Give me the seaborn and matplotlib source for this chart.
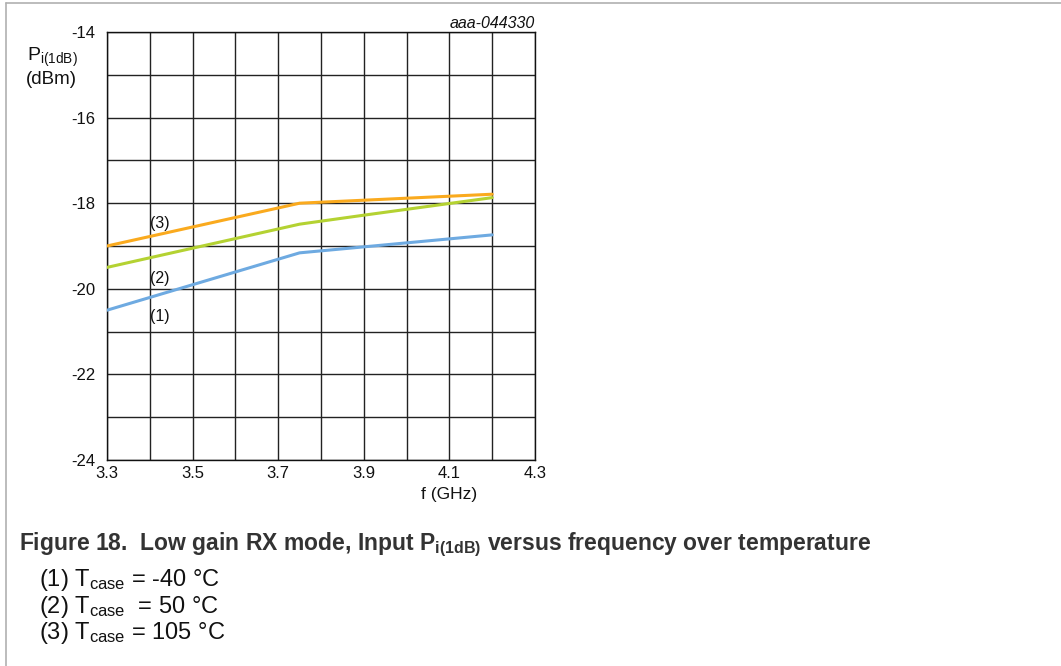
import matplotlib
matplotlib.use('Agg')
import matplotlib.pyplot as plt
from matplotlib.lines import Line2D
import numpy as np
import pandas as pd
import seaborn as sns

# values
freq_ghz = [3.3, 3.75, 3.9, 4.2]
p1db_m40 = [-20.5, -19.16, -19.02, -18.74]   # (1) Tcase = -40 C
p1db_50 = [-19.5, -18.49, -18.28, -17.87]    # (2) Tcase = 50 C
p1db_105 = [-19.0, -18.0, -17.93, -17.79]    # (3) Tcase = 105 C

curve_tags = ['(1)', '(2)', '(3)']
tag_y = [-20.65, -19.75, -18.47]
legend_lines = [r'(1) T$_{\mathregular{case}}$ = -40 °C',
                r'(2) T$_{\mathregular{case}}$  = 50 °C',
                r'(3) T$_{\mathregular{case}}$ = 105 °C']

colors = ['#6EAAE1', '#B4D232', '#FAAA1E']

sns.set_style('white')
plt.rcParams['font.family'] = ['Liberation Sans', 'DejaVu Sans']
plt.rcParams['mathtext.fontset'] = 'custom'
plt.rcParams['mathtext.rm'] = 'Liberation Sans'
plt.rcParams['mathtext.bf'] = 'Liberation Sans:bold'
plt.rcParams['mathtext.it'] = 'Liberation Sans:italic'
plt.rcParams['mathtext.default'] = 'regular'
plt.rcParams['axes.unicode_minus'] = False

df = pd.DataFrame({
    'f': freq_ghz * 3,
    'p': p1db_m40 + p1db_50 + p1db_105,
    'tag': sum([[t] * len(freq_ghz) for t in curve_tags], []),
})

fig = plt.figure(figsize=(10.61, 6.66), dpi=100)
ax = fig.add_axes([107 / 1061, 1 - 460 / 666, 428 / 1061, 428 / 666])

sns.lineplot(data=df, x='f', y='p', hue='tag', palette=colors, linewidth=2.2,
             legend=False, ax=ax, zorder=3)

ax.set_xlim(3.3, 4.3)
ax.set_ylim(-24, -14)
ax.set_xticks(np.arange(3.3, 4.31, 0.2))
ax.set_xticklabels(['3.3', '3.5', '3.7', '3.9', '4.1', '4.3'])
ax.set_xticks(np.arange(3.4, 4.3, 0.2), minor=True)
ax.set_yticks(np.arange(-24, -13, 2))
ax.set_yticks(np.arange(-23, -14, 2), minor=True)
ax.grid(True, which='both', color='#222222', linewidth=1.0)
ax.tick_params(which='both', length=0, labelsize=12, colors='#111111')
ax.tick_params(axis='x', pad=4)
ax.tick_params(axis='y', pad=8.5)
for s in ax.spines.values():
    s.set_color('#111111')
    s.set_linewidth(1.0)
ax.set_xlabel('')
ax.set_ylabel('')

for t, y in zip(curve_tags, tag_y):
    ax.text(3.401, y, t, fontsize=11.5, va='center', ha='left', color='#111111', zorder=4)

ax.text(4.1, -24.64, 'f (GHz)', fontsize=12.5, ha='center', va='top', color='#111111')

fig.text(27 / 1061, 1 - 61 / 666, r'P$_{\mathregular{i(1dB)}}$', fontsize=14,
         ha='left', va='baseline', color='#111111')
fig.text(26 / 1061, 1 - 84 / 666, '(dBm)', fontsize=13.5, ha='left', va='baseline',
         color='#111111')
fig.text(535 / 1061, 1 - 23 / 666, 'aaa-044330', fontsize=11.5, style='italic',
         ha='right', va='center', color='#111111')

fig.text(19 / 1061, 1 - 550 / 666,
         r'Figure 18.  Low gain RX mode, Input P$_{\mathbf{i(1dB)}}$ versus frequency over temperature',
         fontsize=16.5, fontweight='bold', ha='left', va='baseline', color='#333333')
for i, s in enumerate(legend_lines):
    fig.text(39 / 1061, 1 - (586 + 26.5 * i) / 666, s, fontsize=17, ha='left',
             va='baseline', color='#111111')

# frame lines on the left and top of the page
fig.add_artist(Line2D([5.5 / 1061, 5.5 / 1061], [0, 1 - 2.5 / 666],
                      transform=fig.transFigure, color='#b0b0b0', linewidth=1.2))
fig.add_artist(Line2D([5.5 / 1061, 1], [1 - 2.5 / 666, 1 - 2.5 / 666],
                      transform=fig.transFigure, color='#b0b0b0', linewidth=1.2))

fig.savefig('out.png', dpi=100)
